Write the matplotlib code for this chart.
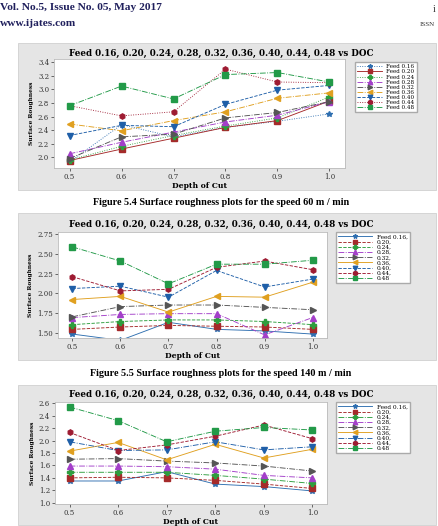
import matplotlib
matplotlib.use("Agg")
import matplotlib.pyplot as plt
from matplotlib.patches import Rectangle

W, H = 439, 526

depth = [0.5, 0.6, 0.7, 0.8, 0.9, 1.0]
feeds = ["0.16", "0.20", "0.24", "0.28", "0.32", "0.36", "0.40", "0.44", "0.48"]

# surface roughness, one row per feed (0.16 ... 0.48)
ra_speed60 = [
    [1.93, 2.48, 2.30, 2.44, 2.53, 2.64],
    [1.95, 2.12, 2.28, 2.44, 2.54, 2.83],
    [1.96, 2.16, 2.32, 2.46, 2.58, 2.89],
    [2.05, 2.22, 2.37, 2.52, 2.62, 2.82],
    [1.98, 2.30, 2.34, 2.58, 2.66, 2.82],
    [2.49, 2.39, 2.54, 2.67, 2.87, 2.95],
    [2.32, 2.47, 2.45, 2.78, 2.99, 3.06],
    [2.76, 2.61, 2.67, 3.30, 3.11, 3.10],
    [2.76, 3.05, 2.86, 3.22, 3.25, 3.11],
]
ra_speed140 = [
    [1.48, 1.40, 1.63, 1.54, 1.52, 1.48],
    [1.54, 1.57, 1.59, 1.58, 1.57, 1.54],
    [1.60, 1.64, 1.66, 1.66, 1.64, 1.60],
    [1.69, 1.73, 1.74, 1.74, 1.47, 1.69],
    [1.70, 1.83, 1.85, 1.85, 1.82, 1.79],
    [1.92, 1.96, 1.76, 1.96, 1.95, 2.14],
    [2.06, 2.09, 1.95, 2.29, 2.08, 2.18],
    [2.21, 2.03, 2.05, 2.33, 2.41, 2.30],
    [2.59, 2.41, 2.12, 2.37, 2.37, 2.42],
]
ra_speed3 = [
    [1.35, 1.35, 1.50, 1.30, 1.26, 1.19],
    [1.40, 1.41, 1.40, 1.36, 1.30, 1.23],
    [1.49, 1.49, 1.49, 1.44, 1.38, 1.31],
    [1.59, 1.59, 1.58, 1.54, 1.44, 1.40],
    [1.70, 1.71, 1.67, 1.64, 1.59, 1.51],
    [1.83, 1.97, 1.69, 1.94, 1.72, 1.86],
    [1.98, 1.84, 1.85, 1.98, 1.85, 1.90],
    [2.13, 1.84, 1.93, 2.07, 2.25, 2.03],
    [2.54, 2.32, 1.98, 2.15, 2.21, 2.17],
]

colors = ["#2f6fb0", "#a52a2a", "#2e9e3e", "#a33fc9", "#555555",
          "#e0a020", "#1f5fa8", "#9e1b32", "#229a48"]
markers = ["*", "s", "P", "^", ">", "<", "v", "h", "s"]
styles1 = [":", "-", ":", "-.", "-.", "-.", "--", ":", "-."]
styles2 = ["-", "--", "--", "-.", "-.", "-", "--", "--", "-."]
styles3 = ["-", "--", "-.", "-.", "-.", "-", "-.", "--", "-."]

title = "Feed 0.16, 0.20, 0.24, 0.28, 0.32, 0.36, 0.40, 0.44, 0.48 vs DOC"
page_font = ["Liberation Serif", "DejaVu Serif"]
chart_font = ["DejaVu Serif"]
plt.rcParams["font.family"] = chart_font


def fx(px):
    return px / W


def fy(py):
    return 1 - py / H


fig = plt.figure(figsize=(W / 100, H / 100), dpi=100)

# page header
navy = "#1f1f5c"
fig.text(fx(0), fy(7), "Vol. No.5, Issue No. 05, May 2017", color=navy, family=page_font,
         fontsize=8.2, fontweight="bold", va="center", ha="left")
fig.text(fx(0), fy(24), "www.ijates.com", color=navy, family=page_font,
         fontsize=8.2, fontweight="bold", va="center", ha="left")
fig.text(fx(433), fy(9), "i", color="#333333", fontsize=7, family=page_font,
         va="center", ha="left")
fig.text(fx(420), fy(25), "ISSN", color="#333333", fontsize=5, family=page_font,
         va="center", ha="left")

# gray panels behind each chart
for top, bot in [(43, 190), (213, 360), (385, 525)]:
    fig.patches.append(Rectangle((fx(18), fy(bot)), fx(436) - fx(18), (bot - top) / H,
                                 transform=fig.transFigure, facecolor="#e5e5e5",
                                 edgecolor="#d0d0d0", linewidth=0.6, zorder=-5))

fig.text(fx(221), fy(202), "Figure 5.4 Surface roughness plots for the speed 60 m / min",
         fontsize=7.3, fontweight="bold", ha="center", va="center", family=page_font)
fig.text(fx(221), fy(373), "Figure 5.5 Surface roughness plots for the speed 140 m / min",
         fontsize=7.3, fontweight="bold", ha="center", va="center", family=page_font)

charts = [
    # data, axes box (px), ylim, yticks, tick fmt, styles, legend corner, labels,
    # title y, handle length, legend font
    (ra_speed60, (54, 59, 345, 168), (1.84, 3.45), [2.0, 2.2, 2.4, 2.6, 2.8, 3.0, 3.2, 3.4],
     "{:.1f}", styles1, (355, 62), ["Feed " + f for f in feeds], 53, 4.3, 4.1),
    (ra_speed140, (58, 232, 327, 338), (1.43, 2.78), [1.50, 1.75, 2.00, 2.25, 2.50, 2.75],
     "{:.2f}", styles2, (336, 232), ["Feed 0.16,"] + [f + "," for f in feeds[1:-1]] + ["0.48"],
     224, 5.8, 4.2),
    (ra_speed3, (55, 402, 327, 504), (0.98, 2.62), [1.0, 1.2, 1.4, 1.6, 1.8, 2.0, 2.2, 2.4, 2.6],
     "{:.1f}", styles3, (336, 402), ["Feed 0.16,"] + [f + "," for f in feeds[1:-1]] + ["0.48"],
     394, 5.8, 4.2),
]

for data, box, ylim, yt, fmt, lstyles, leg_at, labels, title_y, hlen, lfs in charts:
    x0, y0, x1, y1 = box
    ax = fig.add_axes([fx(x0), fy(y1), (x1 - x0) / W, (y1 - y0) / H])
    ax.set_facecolor("white")
    for i, row in enumerate(data):
        ax.plot(depth, row, color=colors[i], linestyle=lstyles[i], linewidth=0.65,
                marker=markers[i], markersize=3.8, label=labels[i])
    ax.set_xlim(0.47, 1.03)
    ax.set_ylim(*ylim)
    ax.set_xticks(depth)
    ax.set_xticklabels(["{:.1f}".format(d) for d in depth])
    ax.set_yticks(yt)
    ax.set_yticklabels([fmt.format(v) for v in yt])
    ax.tick_params(labelsize=5, length=2, width=0.5, pad=1.5, colors="#333333")
    for s in ax.spines.values():
        s.set_color("#bbbbbb")
        s.set_linewidth(0.6)
    ax.set_xlabel("Depth of Cut", fontsize=5.5, fontweight="bold", labelpad=1)
    ax.set_ylabel("Surface Roughness", fontsize=4.2, fontweight="bold", labelpad=3)
    fig.text(fx(221), fy(title_y), title, fontsize=6.3, fontweight="bold",
             ha="center", va="center")
    ax.legend(loc="upper left", bbox_to_anchor=(fx(leg_at[0]), fy(leg_at[1])),
              bbox_transform=fig.transFigure, borderaxespad=0, fontsize=lfs,
              labelspacing=0.02, handlelength=hlen, handletextpad=0.8,
              borderpad=0.4, fancybox=False, edgecolor="#aaaaaa", framealpha=1,
              markerscale=0.85)

fig.savefig("out.png", dpi=100)
